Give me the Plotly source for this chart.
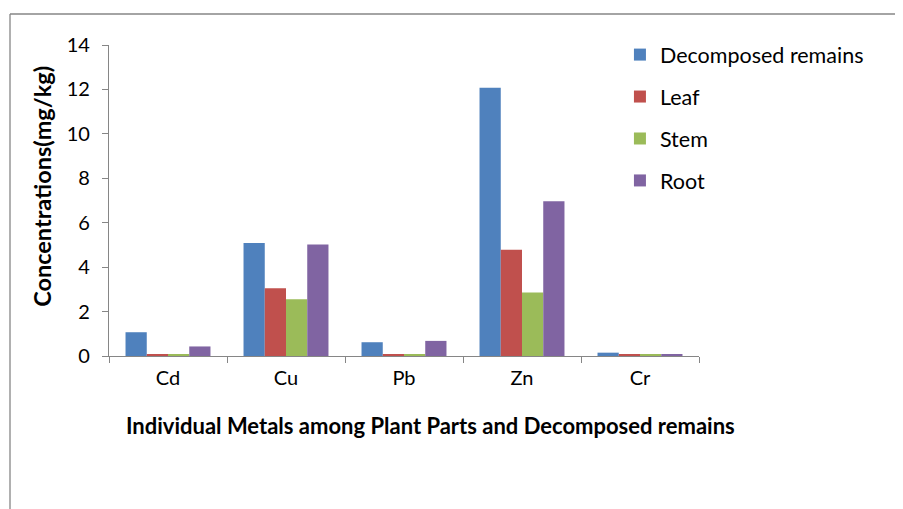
import plotly.graph_objects as go

metals = ["Cd", "Cu", "Pb", "Zn", "Cr"]
decomposed = [1.07, 5.09, 0.62, 12.08, 0.15]
leaf = [0.05, 3.05, 0.05, 4.78, 0.07]
stem = [0.05, 2.55, 0.05, 2.86, 0.07]
root = [0.43, 5.02, 0.68, 6.97, 0.07]

series = [
    ("Decomposed remains", decomposed, "#4F81BD"),
    ("Leaf", leaf, "#C0504D"),
    ("Stem", stem, "#9BBB59"),
    ("Root", root, "#8064A2"),
]

FONT = "Lato, Open Sans, sans-serif"

fig = go.Figure()
for i, (name, vals, col) in enumerate(series):
    fig.add_trace(go.Bar(
        x=metals, y=vals, name=name, marker_color=col,
        marker_line_width=0, legendgroup=f"g{i}",
    ))

fig.update_layout(
    width=895, height=501,
    margin=dict(l=101, r=204, t=37, b=153),
    paper_bgcolor="white", plot_bgcolor="white",
    barmode="group", bargap=0.28, bargroupgap=0,
    font=dict(family=FONT, size=20, color="#000"),
    showlegend=True,
    legend=dict(x=0.866, y=1.035, xanchor="left", yanchor="top",
                font=dict(size=21.5), tracegroupgap=11,
                traceorder="grouped", itemwidth=30, bgcolor="rgba(0,0,0,0)"),
    xaxis=dict(showline=True, linecolor="#868686", linewidth=1.3,
               ticks="outside", ticklen=6, tickcolor="#868686",
               tickson="boundaries", showgrid=False, tickfont=dict(size=20),
               ticklabelstandoff=4),
    yaxis=dict(range=[0, 14], dtick=2, showline=True, linecolor="#868686",
               linewidth=1.3, ticks="outside", ticklen=6, tickcolor="#868686",
               showgrid=False, zeroline=False, tickfont=dict(size=20),
               ticklabelstandoff=8),
)

fig.add_annotation(text="<b>Individual Metals among Plant Parts and Decomposed remains</b>",
                   xref="paper", yref="paper", x=0.545, y=-0.222,
                   showarrow=False, font=dict(size=22), xanchor="center", yanchor="middle")
fig.add_annotation(text="<b>Concentrations(mg/kg)</b>",
                   xref="paper", yref="paper", x=-0.1136, y=0.547, textangle=-90,
                   showarrow=False, font=dict(size=23.5), xanchor="center", yanchor="middle")

# outer chart border (top and left edges visible)
fig.add_shape(type="line", xref="paper", yref="paper",
              x0=(10 - 109) / 590, x1=(920 - 109) / 590,
              y0=(356 - 14) / 311, y1=(356 - 14) / 311,
              line=dict(color="#868686", width=1.3))
fig.add_shape(type="line", xref="paper", yref="paper",
              x0=(10 - 109) / 590, x1=(10 - 109) / 590,
              y0=(356 - 14) / 311, y1=(356 - 520) / 311,
              line=dict(color="#868686", width=1.3))

fig.write_html("out.html")
